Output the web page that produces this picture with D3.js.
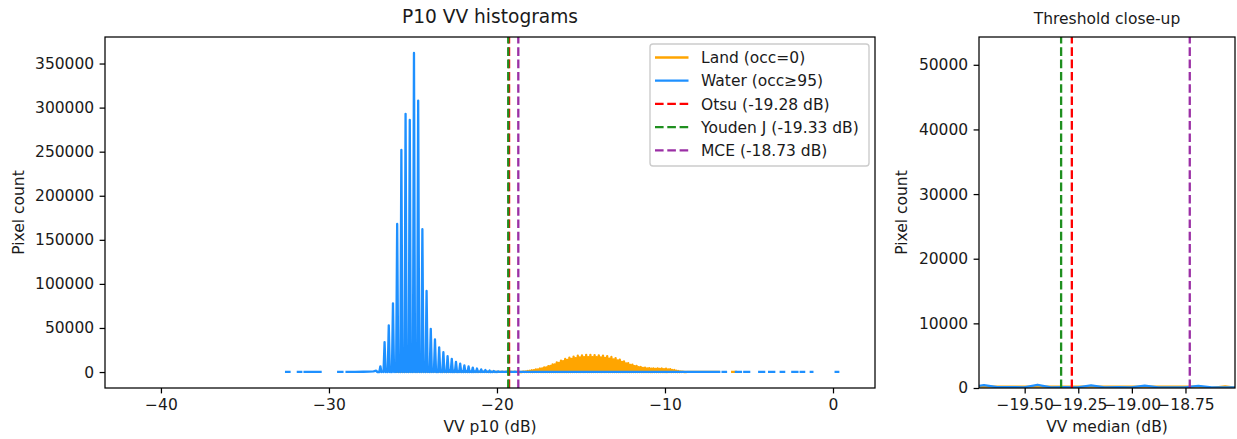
<!DOCTYPE html>
<html><head><meta charset="utf-8">
<script src="https://cdn.jsdelivr.net/npm/d3@7"></script>
<style>
body{margin:0;background:#fff;}
svg{display:block;}
text{font-family:"DejaVu Sans",sans-serif;fill:#1a1a1a;}
</style>
</head><body>
<svg id="c" width="1237" height="439"></svg>
<script>
// ---------------- data ----------------
// Histogram bins are 0.0625 dB wide. The pixel values are quantised, so each
// 0.25 dB period holds: a main level bin, an (almost) empty bin, a secondary
// level bin and another (almost) empty bin.
const binWidth = 0.0625;

// water (occ>=95)
const waterCoreStart = -27.19;
const waterPeaks = [1500, 6500, 34000, 53000, 78000, 168000, 252000, 293000, 286000, 362000,
  308000, 162000, 92000, 49000, 37000, 28000, 22500, 18000, 15000, 11500,
  9500, 7600, 6400, 5000, 4000, 3000, 2300, 1700, 1200, 800,
  450, 500, 420, 380, 330, 300, 280];
const waterMids = [300, 600, 1000, 2000, 3000, 5000, 7000, 9000, 10000, 9000,
  7000, 5000, 3500, 2500, 2000, 1700, 1500, 1300, 1100, 1000,
  900, 800, 700, 600, 550, 500, 450, 400, 350, 250,
  150, 120, 120, 110, 110, 100];
const waterGaps = [0,0, 0,0, 0,0, 0,0, 0,0, 0,0, 0,0, 0,0, 0,0, 0,0,
  0,0, 0,0, 0,0, 0,0, 0,0, 0,0, 0,0, 0,0, 0,0, 0,0,
  0,0, 0,0, 0,0, 0,0, 0,0, 0,0, 0,0, 0,0, 0,0, 200,150,
  120,100, 100,100, 100,100, 100,100, 100,100, 100,100];
// sparse low-count stretches ([dB, count]; null = empty bins / gap)
const waterLeft = [[-32.55,150],[-32.35,150],null,[-31.85,150],[-31.65,150],null,
  [-31.45,150],[-31.2,150],[-30.95,150],[-30.7,150],[-30.5,150],null,
  [-29.45,150],[-29.2,150],null,
  [-28.95,200],[-28.45,250],[-27.95,350],[-27.6,500],[-27.35,800]];
const waterRight = [[-17.69,250],[-16.5,250],[-15,220],[-13.5,220],[-12,200],[-10.5,180],
  [-9,150],[-7.5,120],[-6.77,100],null,
  [-6.57,100],[-6.37,100],null,[-5.78,100],[-5.48,100],null,[-5.28,100],[-4.99,100],null,
  [-4.39,100],[-4.10,100],null,[-3.80,100],[-3.50,100],null,[-3.11,100],[-2.91,100],null,
  [-2.42,100],[-2.12,100],null,[-1.92,100],[-1.72,100],null,[-1.32,100],[-1.23,100],null,
  [0.16,100],[0.31,100]];

// land (occ=0)
const landCoreStart = -18.69;
const landPeaks = [200, 600, 1200, 2000, 3000, 4000, 5300, 6800, 8800, 11000,
  13000, 14800, 16300, 17600, 18500, 19000, 19400, 19400, 19300, 19000,
  18600, 18000, 17100, 15900, 14200, 12200, 10200, 8400, 6900, 5700,
  4900, 4400, 4200, 4100, 4000, 3800, 3300, 2300, 1100, 500, 250];
const landMids = [250, 800, 1400, 2200, 3100, 4100, 5300, 6900, 8700, 10500,
  12300, 13800, 15000, 15900, 16500, 16900, 17000, 17000, 16800, 16500,
  16000, 15300, 14400, 13100, 11500, 9800, 8200, 6800, 5600, 4700,
  4100, 3800, 3600, 3500, 3300, 3000, 2400, 1500, 700, 300];
const landGaps = [0,0, 0,0, 0,0, 0,0, 0,0, 0,0, 0,0, 0,0, 0,0, 0,0,
  0,0, 0,0, 0,0, 0,0, 0,0, 0,0, 0,0, 0,0, 0,0, 0,0,
  0,0, 0,0, 0,0, 0,0, 0,0, 0,0, 0,0, 0,0, 0,0, 0,0,
  0,0, 0,0, 0,0, 0,0, 0,0, 0,0, 0,0, 0,0, 0,0, 0,0];
const landLeft = [[-26.0,150],[-25.5,300],[-25,400],[-24.5,450],[-24,400],[-23.5,380],
  [-23,350],[-22,300],[-21,260],[-20,230],[-19.5,220],[-18.94,200]];
const landRight = [[-8.3,150],[-7.5,120],[-6.8,100],null,[-6.0,150],[-5.78,150]];

// thresholds
const thresholdNames = ["Otsu", "Youden J", "MCE"];
const thresholdValues = [-19.28, -19.33, -18.73];
const thresholdColors = ["#ff0000", "#1f8f1f", "#9b2fa5"];

// ticks
const mainXTicks = [-40, -30, -20, -10, 0];
const mainYTicks = [0, 50000, 100000, 150000, 200000, 250000, 300000, 350000];
const zoomXTicks = [-19.50, -19.25, -19.00, -18.75];
const zoomYTicks = [0, 10000, 20000, 30000, 40000, 50000];

const seriesNames = ["Land (occ=0)", "Water (occ\u226595)"];
const seriesColors = ["#FFA500", "#1E90FF"];

// ---------------- build series ----------------
function buildCore(start, peaks, mids, gaps) {
  const out = [];
  peaks.forEach((p, i) => {
    const x0 = start + 4 * i * binWidth;
    out.push([x0, p]);
    if (i < mids.length) {
      out.push([x0 + binWidth, gaps[2 * i]]);
      out.push([x0 + 2 * binWidth, mids[i]]);
      out.push([x0 + 3 * binWidth, gaps[2 * i + 1]]);
    }
  });
  return out;
}
const water = [...waterLeft, ...buildCore(waterCoreStart, waterPeaks, waterMids, waterGaps), ...waterRight];
const land = [...landLeft, ...buildCore(landCoreStart, landPeaks, landMids, landGaps), ...landRight];

// ---------------- drawing ----------------
const svg = d3.select("#c");
const FS = 15.5, LW = 2.3, AXW = 1.25, TICK = 5.4, PAD = 5.4;

function panel(opt) {
  const {x0, x1, y0, y1, xDomain, yDomain, xTicks, yTicks, xFmt, title, titleSize, xLabel, yLabelX, id} = opt;
  const x = d3.scaleLinear().domain(xDomain).range([x0, x1]);
  const y = d3.scaleLinear().domain(yDomain).range([y1, y0]);
  const g = svg.append("g");
  g.append("clipPath").attr("id", id).append("rect")
    .attr("x", x0).attr("y", y0).attr("width", x1 - x0).attr("height", y1 - y0);
  const plot = g.append("g").attr("clip-path", `url(#${id})`);
  const line = d3.line().defined(d => d !== null).x(d => x(d[0])).y(d => y(d[1]));
  [land, water].forEach((s, i) => {
    plot.append("path").attr("d", line(s)).attr("fill", "none")
      .attr("stroke", seriesColors[i]).attr("stroke-width", LW)
      .attr("stroke-linejoin", "round").attr("stroke-linecap", "square");
  });
  thresholdValues.forEach((v, i) => {
    plot.append("line").attr("x1", x(v)).attr("x2", x(v)).attr("y1", y1).attr("y2", y0)
      .attr("stroke", thresholdColors[i]).attr("stroke-width", LW)
      .attr("stroke-dasharray", "8.6,3.7");
  });
  const ax = g.append("g").attr("transform", `translate(0,${y1})`)
    .call(d3.axisBottom(x).tickValues(xTicks).tickFormat(xFmt).tickSize(TICK).tickPadding(PAD));
  const ay = g.append("g").attr("transform", `translate(${x0},0)`)
    .call(d3.axisLeft(y).tickValues(yTicks).tickFormat(d3.format("d")).tickSize(TICK).tickPadding(PAD));
  [ax, ay].forEach(a => {
    a.select(".domain").remove();
    a.selectAll("line").attr("stroke", "#000").attr("stroke-width", AXW);
    a.selectAll("text").attr("font-size", FS).attr("fill", "#1a1a1a")
      .attr("font-family", "DejaVu Sans");
  });
  g.append("rect").attr("x", x0).attr("y", y0).attr("width", x1 - x0).attr("height", y1 - y0)
    .attr("fill", "none").attr("stroke", "#000").attr("stroke-width", AXW);
  g.append("text").attr("x", (x0 + x1) / 2).attr("y", y0 - 9.3 - titleSize * 0.236)
    .attr("text-anchor", "middle").attr("font-size", titleSize).text(title);
  g.append("text").attr("x", (x0 + x1) / 2).attr("y", 432)
    .attr("text-anchor", "middle").attr("font-size", FS).text(xLabel);
  g.append("text").attr("transform", `translate(${yLabelX},${(y0 + y1) / 2}) rotate(-90)`)
    .attr("text-anchor", "middle").attr("font-size", FS).text("Pixel count");
  return {x, y, g};
}

panel({
  id: "clipMain", x0: 105, x1: 875, y0: 37, y1: 388,
  xDomain: [-43.33, 2.5], yDomain: [-18100, 380100],
  xTicks: mainXTicks, yTicks: mainYTicks, xFmt: d3.format("d"),
  title: "P10 VV histograms", titleSize: 18.6, xLabel: "VV p10 (dB)", yLabelX: 24
});
panel({
  id: "clipZoom", x0: 979, x1: 1235, y0: 37, y1: 388,
  xDomain: [-19.713, -18.519], yDomain: [0, 54300],
  xTicks: zoomXTicks, yTicks: zoomYTicks, xFmt: d3.format(".2f"),
  title: "Threshold close-up", titleSize: FS, xLabel: "VV median (dB)", yLabelX: 907
});

// legend
const leg = svg.append("g");
leg.append("rect").attr("x", 650).attr("y", 44).attr("width", 219).attr("height", 122)
  .attr("rx", 3).attr("fill", "#fff").attr("fill-opacity", 0.8)
  .attr("stroke", "#cccccc").attr("stroke-width", 1.4);
const legItems = [
  ...seriesNames.map((n, i) => ({label: n, color: seriesColors[i], dash: null})),
  ...thresholdNames.map((n, i) => ({label: `${n} (${thresholdValues[i].toFixed(2)} dB)`, color: thresholdColors[i], dash: "8.6,3.7"}))
];
legItems.forEach((it, i) => {
  const cy = 57.5 + i * 23.2;
  leg.append("line").attr("x1", 655).attr("x2", 688.5).attr("y1", cy).attr("y2", cy)
    .attr("stroke", it.color).attr("stroke-width", LW)
    .attr("stroke-dasharray", it.dash);
  leg.append("text").attr("x", 701).attr("y", cy + 5.6).attr("font-size", FS).text(it.label);
});
</script>
</body></html>
